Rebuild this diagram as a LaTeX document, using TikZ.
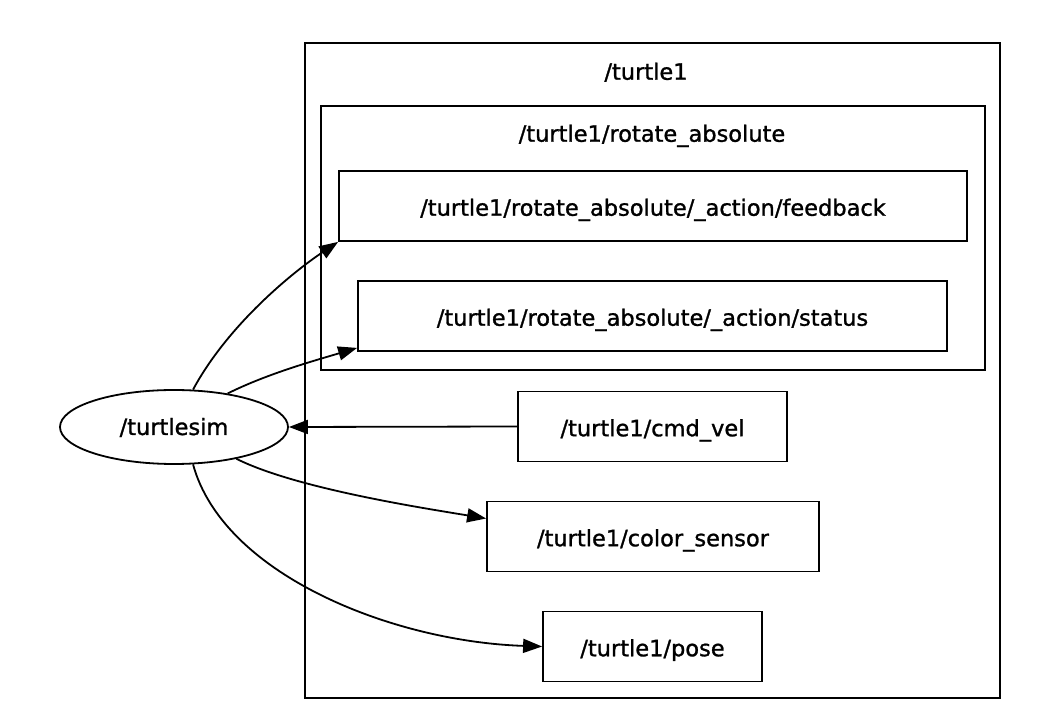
\documentclass[tikz,border=0pt]{standalone}
\usepackage{fontspec}
\newfontfamily\graphfont{DejaVu Sans}[FakeBold=1.2]
\usetikzlibrary{arrows.meta,shapes.geometric}

\begin{document}
\begin{tikzpicture}[x=1pt,y=1pt,line width=1.8pt,
  every node/.style={font=\graphfont\fontsize{22.5}{27}\selectfont,text height=19.5pt,text depth=0pt},
  topicbox/.style={draw,rectangle,inner sep=0pt,minimum height=70pt},
  nodeell/.style={draw,ellipse,inner sep=0pt,minimum width=228pt,minimum height=74pt,text height=16pt},
  edge/.style={-{Triangle[length=19pt,width=14pt]}}]
\useasboundingbox (0,0) rectangle (1052,715);
\draw (305,17) rectangle (1000,672);
\node (lblturtle) at (646,645) {/turtle1};
\draw (321,345) rectangle (985,609);
\node (lblrotate) at (652,583) {/turtle1/rotate\_absolute};
\node[topicbox,minimum width=628pt] (fb) at (653,509) {/turtle1/rotate\_absolute/\_action/feedback};
\node[topicbox,minimum width=589pt] (st) at (652.5,399) {/turtle1/rotate\_absolute/\_action/status};
\node[topicbox,minimum width=269pt] (cv) at (652.5,288.5) {/turtle1/cmd\_vel};
\node[topicbox,minimum width=332pt] (cs) at (653,178.5) {/turtle1/color\_sensor};
\node[topicbox,minimum width=219pt] (po) at (652.5,68.5) {/turtle1/pose};
\node[nodeell] (ts) at (174,288) {/turtlesim};
\draw[edge] (ts.63) .. controls +(35,65) and +(-45,-30) .. (fb.south west);
\draw[edge] (ts.32) .. controls +(40,20) and +(-40,-12) .. ([yshift=4pt]st.south west);
\draw[edge] (cv.west) -- (ts.east);
\draw[edge] (ts.-27) .. controls +(60,-30) and +(-60,10) .. ([yshift=18pt]cs.west);
\draw[edge] (ts.-63) .. controls +(30,-110) and +(-150,5) .. (po.west);
\end{tikzpicture}
\end{document}
